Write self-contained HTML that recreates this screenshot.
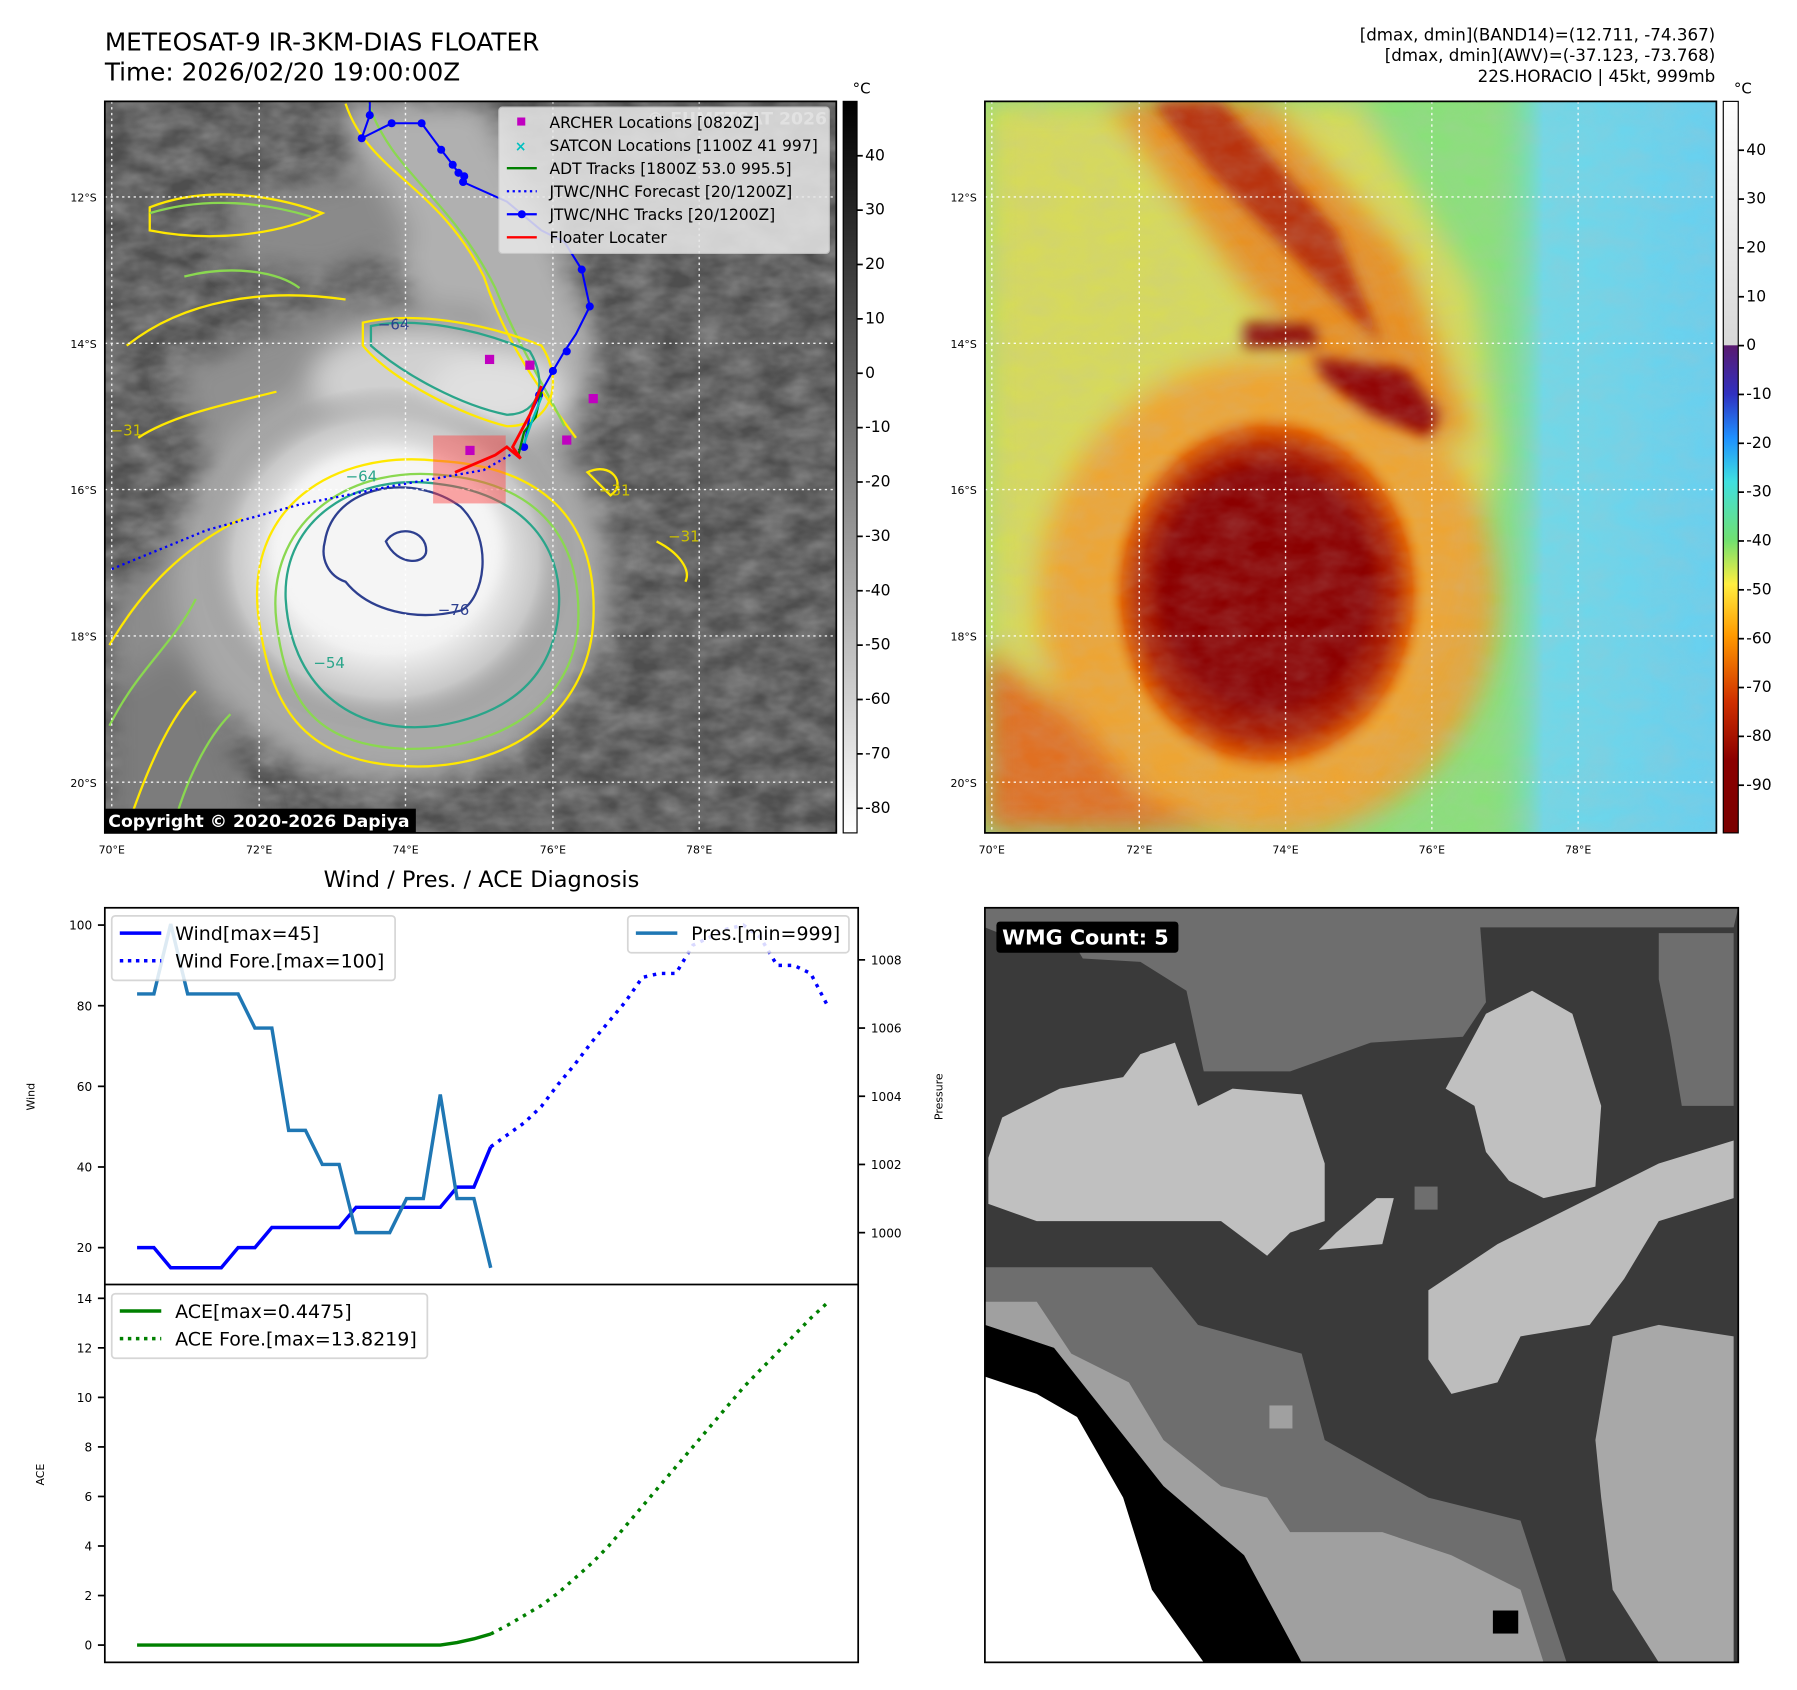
<!DOCTYPE html>
<html><head><meta charset="utf-8">
<style>
html,body{margin:0;padding:0;background:#fff;}
svg{display:block;font-family:"DejaVu Sans","Liberation Sans",sans-serif;}
</style></head>
<body>
<svg id="fig" width="1797" height="1690" viewBox="0 0 1560 1467" preserveAspectRatio="none" xmlns="http://www.w3.org/2000/svg">
<defs>
  <filter id="noise" x="0" y="0" width="100%" height="100%">
    <feTurbulence type="fractalNoise" baseFrequency="0.035 0.06" numOctaves="3" seed="4"/>
    <feColorMatrix type="matrix" values="0 0 0 0 0.5  0 0 0 0 0.5  0 0 0 0 0.5  1.2 0 0 0 -0.25"/>
  </filter>
  <filter id="blur6"><feGaussianBlur stdDeviation="6"/></filter>
  <filter id="blur12"><feGaussianBlur stdDeviation="12"/></filter>
  <clipPath id="clipL"><rect x="91" y="88" width="635" height="635"/></clipPath>
  <clipPath id="clipR"><rect x="855" y="88" width="635" height="635"/></clipPath>
  <clipPath id="clipB"><rect x="855" y="788" width="654" height="655"/></clipPath>
  <radialGradient id="stormL" cx="0.5" cy="0.5" r="0.5">
    <stop offset="0" stop-color="#ffffff"/><stop offset="0.55" stop-color="#f0f0f0"/><stop offset="0.8" stop-color="#c8c8c8"/><stop offset="1" stop-color="#909090" stop-opacity="0"/>
  </radialGradient>
  <linearGradient id="cbarL" x1="0" y1="0" x2="0" y2="1">
    <stop offset="0" stop-color="#000"/><stop offset="1" stop-color="#fff"/>
  </linearGradient>
  <linearGradient id="cbarR" x1="0" y1="0" x2="0" y2="1">
    <stop offset="0" stop-color="#ffffff"/>
    <stop offset="0.333" stop-color="#d8d8d8"/>
    <stop offset="0.334" stop-color="#5a1a70"/>
    <stop offset="0.40" stop-color="#3030c0"/>
    <stop offset="0.46" stop-color="#1e90ff"/>
    <stop offset="0.52" stop-color="#40e0e0"/>
    <stop offset="0.60" stop-color="#70e070"/>
    <stop offset="0.66" stop-color="#ffee40"/>
    <stop offset="0.73" stop-color="#ff9a00"/>
    <stop offset="0.82" stop-color="#d03000"/>
    <stop offset="0.90" stop-color="#8b0000"/>
    <stop offset="1" stop-color="#7a0000"/>
  </linearGradient>
  <radialGradient id="coreR" cx="0.5" cy="0.5" r="0.5">
    <stop offset="0" stop-color="#8b0000"/><stop offset="0.6" stop-color="#8f0200"/><stop offset="0.78" stop-color="#b02000"/><stop offset="0.9" stop-color="#e06000"/><stop offset="1" stop-color="#f0a020" stop-opacity="0"/>
  </radialGradient>
  <linearGradient id="rightCyan" x1="0" y1="0" x2="1" y2="0">
    <stop offset="0" stop-color="#80e080" stop-opacity="0"/><stop offset="0.25" stop-color="#70d8e8"/><stop offset="1" stop-color="#68d0f0"/>
  </linearGradient>
</defs>

<!-- ============ TITLES ============ -->
<text x="91" y="44" font-size="21.5" fill="#000">METEOSAT-9 IR-3KM-DIAS FLOATER</text>
<text x="91" y="70" font-size="21.5" fill="#000">Time: 2026/02/20 19:00:00Z</text>
<g font-size="14.5" text-anchor="end" fill="#000">
  <text x="1489" y="35">[dmax, dmin](BAND14)=(12.711, -74.367)</text>
  <text x="1489" y="53">[dmax, dmin](AWV)=(-37.123, -73.768)</text>
  <text x="1489" y="71">22S.HORACIO | 45kt, 999mb</text>
</g>

<!-- ============ TOP-LEFT IR MAP ============ -->
<g clip-path="url(#clipL)">
  <rect x="91" y="88" width="635" height="635" fill="#4e4e4e"/>
  <rect x="91" y="88" width="635" height="635" filter="url(#noise)" opacity="0.6"/>
  <g filter="url(#blur12)">
    <path d="M290 88 L420 88 L480 200 L520 300 L500 380 L440 380 L380 300 L330 200 Z" fill="#b0b0b0"/>
    <path d="M200 170 L330 150 L360 210 L280 240 L200 230 Z" fill="#8a8a8a"/>
    <path d="M150 320 L300 260 L420 270 L440 330 L330 380 L180 400 Z" fill="#909090"/>
    <path d="M95 520 L200 420 L260 400 L220 520 L160 640 L100 720 Z" fill="#8c8c8c"/>
    <path d="M95 600 L160 560 L200 640 L230 723 L95 723 Z" fill="#7c7c7c"/>
    <ellipse cx="340" cy="500" rx="190" ry="180" fill="#a8a8a8"/>
    <ellipse cx="360" cy="330" rx="90" ry="45" fill="#d0d0d0"/>
    <ellipse cx="430" cy="340" rx="60" ry="35" fill="#e0e0e0"/>
  </g>
  <ellipse cx="335" cy="485" rx="165" ry="150" fill="url(#stormL)"/>
  <ellipse cx="335" cy="475" rx="100" ry="85" fill="#f5f5f5" filter="url(#blur6)"/>
  <g fill="none" stroke-width="2">
    <path d="M225 540 C210 440 290 390 380 400 C470 405 520 450 515 540 C510 620 440 670 350 665 C260 660 235 610 225 540 Z" stroke="#ffe800"/>
    <path d="M240 540 C230 455 300 405 380 412 C460 418 505 460 502 540 C498 610 435 652 350 650 C270 646 248 605 240 540 Z" stroke="#8ad850"/>
    <path d="M248 520 C245 450 310 410 380 420 C450 428 490 470 485 530 C480 590 440 620 380 630 C300 640 252 590 248 520 Z" stroke="#2aa58a"/>
    <path d="M282 470 C290 420 360 410 400 440 C430 470 420 520 400 530 C360 540 320 530 300 505 C285 500 278 485 282 470 Z" stroke="#2d3f8f"/>
    <path d="M335 470 C345 455 370 460 370 478 C370 490 345 492 335 470 Z" stroke="#2d3f8f"/>
    <path d="M300 90 C320 150 380 160 420 240 C440 300 470 340 500 380" stroke="#ffe800"/>
    <path d="M320 90 C340 150 390 170 430 250 C450 300 470 330 490 370" stroke="#8ad850"/>
    <path d="M315 280 C360 270 420 280 470 300 C490 330 480 370 440 370 C400 360 340 330 315 300 Z" stroke="#ffe800"/>
    <path d="M322 283 C360 275 415 285 460 305 C475 330 470 360 440 360 C400 352 350 325 322 300 Z" stroke="#2aa58a"/>
    <path d="M110 300 C160 260 230 250 300 260" stroke="#ffe800"/>
    <path d="M130 180 C180 160 240 170 280 185 C240 205 180 210 130 200 Z" stroke="#ffe800"/>
    <path d="M130 185 C180 170 230 176 270 188" stroke="#8ad850"/>
    <path d="M95 560 C130 500 170 470 210 450" stroke="#ffe800"/>
    <path d="M95 630 C120 580 150 560 170 520" stroke="#8ad850"/>
    <path d="M110 720 C130 660 150 620 170 600" stroke="#ffe800"/>
    <path d="M150 720 C160 680 180 640 200 620" stroke="#8ad850"/>
    <path d="M510 410 C530 400 545 420 530 430 Z" stroke="#ffe800"/>
    <path d="M570 470 C590 480 600 495 595 505" stroke="#ffe800"/>
    <path d="M120 380 C150 360 200 350 240 340" stroke="#ffe800"/>
    <path d="M160 240 C200 230 240 235 260 250" stroke="#8ad850"/>
  </g>
  <g font-size="13" fill="#2d3f8f">
    <text x="328" y="286">−64</text><text x="380" y="534">−76</text>
  </g>
  <g font-size="13" fill="#2aa58a"><text x="300" y="418">−64</text><text x="272" y="580">−54</text></g>
  <g font-size="13" fill="#ccc000"><text x="96" y="378">−31</text><text x="520" y="430">−31</text><text x="580" y="470">−31</text></g>
  <g stroke="#fff" stroke-width="1.2" stroke-dasharray="2,3" opacity="0.9">
    <line x1="97" y1="88" x2="97" y2="723"/><line x1="225" y1="88" x2="225" y2="723"/><line x1="352" y1="88" x2="352" y2="723"/><line x1="480" y1="88" x2="480" y2="723"/><line x1="607" y1="88" x2="607" y2="723"/>
    <line x1="91" y1="171" x2="726" y2="171"/><line x1="91" y1="298" x2="726" y2="298"/><line x1="91" y1="425" x2="726" y2="425"/><line x1="91" y1="552" x2="726" y2="552"/><line x1="91" y1="679" x2="726" y2="679"/>
  </g>
  <rect x="376" y="378" width="63" height="59" fill="#ff4040" opacity="0.45"/>
  <polyline points="97,494 180,460 260,438 340,422 420,408 455,388" fill="none" stroke="#0000ff" stroke-width="2" stroke-dasharray="2,3"/>
  <polyline points="321,88 321,100 314,120 340,107 366,107 383,130 393,143 398,150 403,153 402,158 440,175 470,200 490,210 505,234 512,266 500,290 490,305 480,322 470,340 460,360 455,388" fill="none" stroke="#0000ff" stroke-width="1.8"/>
  <g fill="#0000ff">
    <circle cx="321" cy="100" r="3.5"/><circle cx="314" cy="120" r="3.5"/><circle cx="340" cy="107" r="3.5"/><circle cx="366" cy="107" r="3.5"/><circle cx="383" cy="130" r="3.5"/><circle cx="393" cy="143" r="3.5"/><circle cx="398" cy="150" r="3.5"/><circle cx="403" cy="153" r="3.5"/><circle cx="402" cy="158" r="3.5"/><circle cx="505" cy="234" r="3.5"/><circle cx="512" cy="266" r="3.5"/><circle cx="492" cy="305" r="3.5"/><circle cx="480" cy="322" r="3.5"/><circle cx="468" cy="343" r="3.5"/><circle cx="455" cy="388" r="3.5"/>
  </g>
  <polyline points="450,395 455,375 465,362 470,340" fill="none" stroke="#008000" stroke-width="2"/>
  <polyline points="455,385 462,365 470,345" fill="none" stroke="#00c0c0" stroke-width="2"/>
  <polyline points="395,410 430,395 440,388 452,398 445,388 460,360 468,340 470,335" fill="none" stroke="#ff0000" stroke-width="2.5"/>
  <g fill="#c000c0">
    <rect x="421" y="308" width="8" height="8"/><rect x="456" y="313" width="8" height="8"/><rect x="511" y="342" width="8" height="8"/><rect x="488" y="378" width="8" height="8"/><rect x="404" y="387" width="8" height="8"/>
  </g>
  <text x="718" y="108" font-size="15" font-weight="bold" fill="#ffffff" opacity="0.6" text-anchor="end">© EUMETSAT 2026</text>
  <rect x="91" y="702" width="270" height="21" fill="#000"/>
  <text x="94" y="718" font-size="15" font-weight="bold" fill="#fff">Copyright © 2020-2026 Dapiya</text>
</g>
<rect x="91" y="88" width="635" height="635" fill="none" stroke="#000" stroke-width="1.5"/>
<g>
  <rect x="433" y="93" width="287" height="127" rx="3" fill="#e8e8e8" opacity="0.85" stroke="#ccc"/>
  <rect x="449" y="102" width="7" height="7" fill="#c000c0"/>
  <text x="452" y="131" font-size="12" fill="#00c0c0" text-anchor="middle" font-weight="bold">×</text>
  <line x1="440" y1="146" x2="466" y2="146" stroke="#008000" stroke-width="2"/>
  <line x1="440" y1="166" x2="466" y2="166" stroke="#0000ff" stroke-width="2" stroke-dasharray="2,3"/>
  <line x1="440" y1="186" x2="466" y2="186" stroke="#0000ff" stroke-width="2"/><circle cx="453" cy="186" r="3.5" fill="#0000ff"/>
  <line x1="440" y1="206" x2="466" y2="206" stroke="#ff0000" stroke-width="2"/>
  <g font-size="13.5" fill="#000">
    <text x="477" y="111">ARCHER Locations [0820Z]</text>
    <text x="477" y="131">SATCON Locations [1100Z 41 997]</text>
    <text x="477" y="151">ADT Tracks [1800Z 53.0 995.5]</text>
    <text x="477" y="171">JTWC/NHC Forecast [20/1200Z]</text>
    <text x="477" y="191">JTWC/NHC Tracks [20/1200Z]</text>
    <text x="477" y="211">Floater Locater</text>
  </g>
</g>
<g font-size="9.5" fill="#000">
  <g text-anchor="end"><text x="84" y="175">12°S</text><text x="84" y="302">14°S</text><text x="84" y="429">16°S</text><text x="84" y="556">18°S</text><text x="84" y="683">20°S</text></g>
  <g text-anchor="middle"><text x="97" y="741">70°E</text><text x="225" y="741">72°E</text><text x="352" y="741">74°E</text><text x="480" y="741">76°E</text><text x="607" y="741">78°E</text></g>
</g>
<g>
  <rect x="732" y="88" width="12" height="635" fill="url(#cbarL)" stroke="#000" stroke-width="1"/>
  <text x="748" y="81" font-size="13" text-anchor="middle">°C</text>
  <g font-size="13.5" fill="#000" id="cbL"></g>
</g>

<!-- ============ TOP-RIGHT AWV MAP ============ -->
<g clip-path="url(#clipR)">
  <rect x="855" y="88" width="635" height="635" fill="#8ae07a"/>
  <rect x="1290" y="88" width="200" height="635" fill="url(#rightCyan)"/>
  <g filter="url(#blur12)">
    <path d="M855 88 L1180 88 L1280 250 L1300 400 L1260 560 L1180 700 L1000 723 L855 723 Z" fill="#f0d850" opacity="0.75"/>
    <path d="M960 88 L1100 88 L1220 220 L1280 380 L1200 380 L1080 250 Z" fill="#e89020"/>
    <ellipse cx="1100" cy="520" rx="200" ry="210" fill="#f0a030" opacity="0.9"/>
    <path d="M855 560 L930 620 L990 690 L1060 723 L855 723 Z" fill="#e07020"/>
  </g>
  <g filter="url(#blur6)">
    <path d="M1000 88 L1060 88 L1160 200 L1200 300 L1150 250 L1050 150 Z" fill="#b83010"/>
    <path d="M1080 280 L1140 282 L1145 300 L1080 302 Z" fill="#8b0000"/>
    <path d="M1140 310 L1220 320 L1250 360 L1240 380 L1190 360 L1150 330 Z" fill="#900400"/>
  </g>
  <ellipse cx="1100" cy="515" rx="140" ry="160" fill="url(#coreR)"/>
  <ellipse cx="1098" cy="505" rx="92" ry="100" fill="#8b0000" filter="url(#blur6)"/>
  <rect x="855" y="88" width="635" height="635" filter="url(#noise)" opacity="0.25"/>
  <g stroke="#fff" stroke-width="1.2" stroke-dasharray="2,3" opacity="0.9">
    <line x1="861" y1="88" x2="861" y2="723"/><line x1="989" y1="88" x2="989" y2="723"/><line x1="1116" y1="88" x2="1116" y2="723"/><line x1="1243" y1="88" x2="1243" y2="723"/><line x1="1370" y1="88" x2="1370" y2="723"/>
    <line x1="855" y1="171" x2="1490" y2="171"/><line x1="855" y1="298" x2="1490" y2="298"/><line x1="855" y1="425" x2="1490" y2="425"/><line x1="855" y1="552" x2="1490" y2="552"/><line x1="855" y1="679" x2="1490" y2="679"/>
  </g>
</g>
<rect x="855" y="88" width="635" height="635" fill="none" stroke="#000" stroke-width="1.5"/>
<g font-size="9.5" fill="#000">
  <g text-anchor="end"><text x="848" y="175">12°S</text><text x="848" y="302">14°S</text><text x="848" y="429">16°S</text><text x="848" y="556">18°S</text><text x="848" y="683">20°S</text></g>
  <g text-anchor="middle"><text x="861" y="741">70°E</text><text x="989" y="741">72°E</text><text x="1116" y="741">74°E</text><text x="1243" y="741">76°E</text><text x="1370" y="741">78°E</text></g>
</g>
<g>
  <rect x="1496" y="88" width="13" height="635" fill="url(#cbarR)" stroke="#000" stroke-width="1"/>
  <text x="1513" y="81" font-size="13" text-anchor="middle">°C</text>
  <g font-size="13.5" fill="#000" id="cbR"></g>
</g>

<!-- ============ BOTTOM-LEFT CHART ============ -->
<text x="418" y="770" font-size="19.5" text-anchor="middle">Wind / Pres. / ACE Diagnosis</text>
<g id="chart"></g>
<rect x="91" y="788" width="654" height="655" fill="none" stroke="#000" stroke-width="1.5"/>
<line x1="91" y1="1115" x2="745" y2="1115" stroke="#000" stroke-width="1.5"/>
<text transform="translate(30,952) rotate(-90)" font-size="9.5" text-anchor="middle">Wind</text>
<text transform="translate(818,952) rotate(-90)" font-size="9.5" text-anchor="middle">Pressure</text>
<text transform="translate(38,1280) rotate(-90)" font-size="9.5" text-anchor="middle">ACE</text>
<g>
  <rect x="97" y="795" width="246" height="56" rx="3" fill="#fff" opacity="0.85" stroke="#d0d0d0" stroke-width="1.5"/>
  <line x1="104" y1="810" x2="140" y2="810" stroke="#0000ff" stroke-width="3"/>
  <line x1="104" y1="834" x2="140" y2="834" stroke="#0000ff" stroke-width="3" stroke-dasharray="3,4"/>
  <text x="152" y="816" font-size="16.5">Wind[max=45]</text>
  <text x="152" y="840" font-size="16.5">Wind Fore.[max=100]</text>
</g>
<g>
  <rect x="545" y="795" width="192" height="32" rx="3" fill="#fff" opacity="0.85" stroke="#d0d0d0" stroke-width="1.5"/>
  <line x1="552" y1="810" x2="588" y2="810" stroke="#1f77b4" stroke-width="3"/>
  <text x="600" y="816" font-size="16.5">Pres.[min=999]</text>
</g>
<g>
  <rect x="97" y="1123" width="274" height="56" rx="3" fill="#fff" opacity="0.85" stroke="#d0d0d0" stroke-width="1.5"/>
  <line x1="104" y1="1138" x2="140" y2="1138" stroke="#008000" stroke-width="3"/>
  <line x1="104" y1="1162" x2="140" y2="1162" stroke="#008000" stroke-width="3" stroke-dasharray="3,4"/>
  <text x="152" y="1144" font-size="16.5">ACE[max=0.4475]</text>
  <text x="152" y="1168" font-size="16.5">ACE Fore.[max=13.8219]</text>
</g>

<!-- ============ BOTTOM-RIGHT WMG ============ -->
<g clip-path="url(#clipB)">
  <rect x="855" y="788" width="654" height="655" fill="#3a3a3a"/>
  <path d="M855 788 L1509 788 L1505 805 L1285 805 L1290 870 L1270 900 L1190 905 L1120 930 L1045 930 L1030 860 L990 835 L940 832 L930 815 L880 815 L855 805 Z" fill="#6e6e6e"/>
  <path d="M1440 810 L1505 810 L1505 960 L1460 960 L1450 900 L1440 850 Z" fill="#6e6e6e"/>
  <path d="M855 1100 L1000 1100 L1040 1150 L1130 1175 L1150 1250 L1240 1300 L1320 1320 L1360 1443 L1140 1443 L1080 1360 L1000 1260 L855 1150 Z" fill="#6e6e6e"/>
  <path d="M855 1130 L900 1130 L930 1175 L980 1200 L1010 1250 L1060 1290 L1100 1300 L1120 1330 L1200 1330 L1260 1350 L1320 1380 L1340 1443 L1130 1443 L1080 1350 L1010 1290 L915 1170 L855 1150 Z" fill="#a0a0a0"/>
  <path d="M855 1150 L915 1170 L1010 1290 L1080 1350 L1130 1443 L1045 1443 L1000 1380 L975 1300 L935 1230 L900 1210 L855 1195 Z" fill="#000"/>
  <path d="M855 1195 L900 1210 L935 1230 L975 1300 L1000 1380 L1045 1443 L855 1443 Z" fill="#fff"/>
  <path d="M858 1005 L870 970 L920 945 L975 935 L990 915 L1020 905 L1040 960 L1070 945 L1130 950 L1150 1010 L1150 1060 L1120 1070 L1100 1090 L1060 1060 L980 1060 L900 1060 L858 1045 Z" fill="#c0c0c0"/>
  <path d="M1160 1070 L1195 1040 L1210 1040 L1200 1080 L1145 1085 Z" fill="#c0c0c0"/>
  <path d="M1255 945 L1290 880 L1330 860 L1365 880 L1390 960 L1385 1030 L1340 1040 L1310 1025 L1290 1000 L1280 960 Z" fill="#c0c0c0"/>
  <path d="M1240 1120 L1300 1080 L1380 1040 L1440 1010 L1505 990 L1505 1040 L1440 1060 L1410 1110 L1380 1150 L1320 1160 L1300 1200 L1260 1210 L1240 1180 Z" fill="#bdbdbd"/>
  <path d="M1400 1160 L1440 1150 L1505 1160 L1505 1443 L1440 1443 L1400 1380 L1390 1300 L1385 1250 Z" fill="#a8a8a8"/>
  <rect x="1296" y="1398" width="22" height="20" fill="#000"/>
  <rect x="1228" y="1030" width="20" height="20" fill="#6e6e6e"/>
  <rect x="1102" y="1220" width="20" height="20" fill="#a0a0a0"/>
</g>
<rect x="855" y="788" width="654" height="655" fill="none" stroke="#000" stroke-width="1.5"/>
<rect x="865" y="800" width="158" height="27" rx="3" fill="#000"/>
<text x="870" y="820" font-size="18" font-weight="bold" fill="#fff">WMG Count: 5</text>

<script>
// ---- chart data ----
const windObs = [20,20,15,15,15,15,20,20,25,25,25,25,25,30,30,30,30,30,30,35,35,45];
const windFore = [45,48,51,55,60.5,65.5,71,76,81,87,88,88,95,97,99,100,97,90,90,88,80];
const presObs = [1007,1007,1009.05,1007,1007,1007,1007,1006,1006,1003,1003,1002,1002,1000,1000,1000,1001,1001,1004.05,1001,1001,998.97];
const aceObs = [0,0,0,0,0,0,0,0,0,0,0,0,0,0,0,0,0,0,0,0.1,0.25,0.4475];
const aceFore = [0.4475,0.8,1.2,1.6,2.1,2.7,3.3,4.0,4.8,5.6,6.4,7.2,8.0,8.8,9.6,10.4,11.1,11.8,12.5,13.2,13.8219];
const windTicks = [20,40,60,80,100];
const presTicks = [1000,1002,1004,1006,1008];
const aceTicks = [0,2,4,6,8,10,12,14];
const cbLTicks = [40,30,20,10,0,-10,-20,-30,-40,-50,-60,-70,-80];
const cbRTicks = [40,30,20,10,0,-10,-20,-30,-40,-50,-60,-70,-80,-90];

const NS = 'http://www.w3.org/2000/svg';
const xAt = i => 119 + i * 14.62;
const yWind = v => 1083 - (v - 20) * 3.5;
const yPres = v => 1070 - (v - 1000) * 29.6;
const yAce = v => 1428 - v * 21.5;
const yCbL = v => 324 - v * 4.72;
const yCbR = v => 300 - v * 4.24;

const chart = document.getElementById('chart');
function mk(tag, attrs, parent) {
  const e = document.createElementNS(NS, tag);
  for (const k in attrs) e.setAttribute(k, attrs[k]);
  (parent || chart).appendChild(e);
  return e;
}
function line(vals, off, yf, color, dash, name) {
  const pts = vals.map((v, i) => xAt(i + off).toFixed(1) + ',' + yf(v).toFixed(1)).join(' ');
  const p = mk('polyline', {points: pts, fill: 'none', stroke: color, 'stroke-width': 3, 'stroke-dasharray': dash || 'none'});
  
  
  return p;
}
line(windFore, 21, yWind, '#0000ff', '3,5', 'wind-forecast-line');
line(windObs, 0, yWind, '#0000ff', null, 'wind-line');
line(presObs, 0, yPres, '#1f77b4', null, 'pressure-line');
line(aceFore, 21, yAce, '#008000', '3,5', 'ace-forecast-line');
line(aceObs, 0, yAce, '#008000', null, 'ace-line');

function tick(x1, x2, y, label, anchor, tx, size, parent, name) {
  const g = parent || chart;
  mk('line', {x1: x1, x2: x2, y1: y, y2: y, stroke: '#000', 'stroke-width': 1.5}, g);
  const t = mk('text', {x: tx, y: y + 4, 'font-size': size, 'text-anchor': anchor}, g);
  t.textContent = label;
  
  
}
windTicks.forEach(v => tick(85, 91, yWind(v), v, 'end', 80, 10.5, null, 'wind-tick-label'));
presTicks.forEach(v => tick(745, 751, yPres(v), v, 'start', 756, 10.5, null, 'pressure-tick-label'));
aceTicks.forEach(v => tick(85, 91, yAce(v), v, 'end', 80, 10.5, null, 'ace-tick-label'));
const cbL = document.getElementById('cbL');
cbLTicks.forEach(v => tick(744, 749, yCbL(v), v, 'start', 751, 13.5, cbL, 'ir-colorbar-tick'));
const cbR = document.getElementById('cbR');
cbRTicks.forEach(v => tick(1509, 1514, yCbR(v), v, 'start', 1516, 13.5, cbR, 'awv-colorbar-tick'));
</script>
</svg>
</body></html>
